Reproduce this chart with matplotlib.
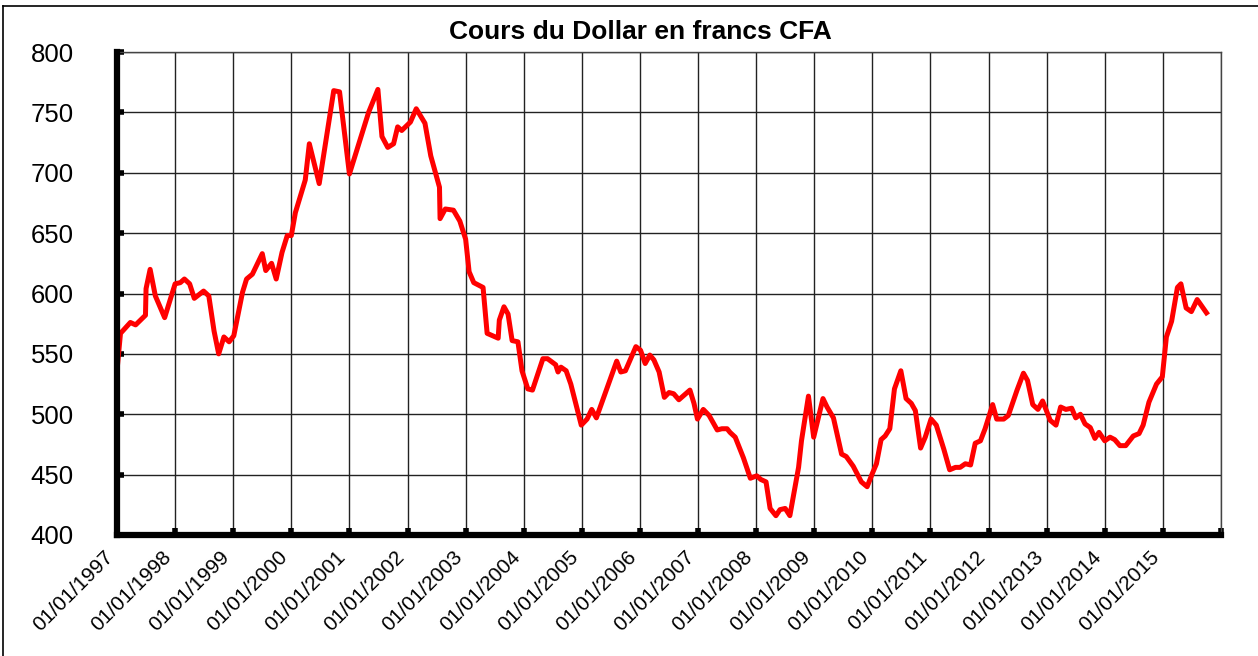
import matplotlib
matplotlib.use("Agg")
import matplotlib.pyplot as plt
from matplotlib.lines import Line2D

plt.rcParams['font.family'] = ['Liberation Sans', 'DejaVu Sans']

# Dates (en années décimales) et cours du dollar
dates = [1997.00, 1997.06, 1997.23, 1997.32, 1997.49, 1997.50, 1997.57, 1997.66, 1997.82,
         1998.00, 1998.09, 1998.16, 1998.25, 1998.33, 1998.49, 1998.58, 1998.67, 1998.75, 1998.84, 1998.93,
         1999.01, 1999.16, 1999.23, 1999.33, 1999.50, 1999.56, 1999.66, 1999.74, 1999.84, 1999.93,
         2000.00, 2000.07, 2000.24, 2000.31, 2000.48, 2000.73, 2000.83,
         2001.00, 2001.33, 2001.49, 2001.56, 2001.66, 2001.76, 2001.83, 2001.90,
         2002.05, 2002.15, 2002.30, 2002.40, 2002.55, 2002.56, 2002.65, 2002.79, 2002.90,
         2003.00, 2003.06, 2003.14, 2003.30, 2003.37, 2003.56, 2003.58, 2003.66, 2003.73, 2003.80, 2003.90, 2003.97,
         2004.07, 2004.15, 2004.33, 2004.41, 2004.55, 2004.59, 2004.64, 2004.73, 2004.81, 2004.99,
         2005.09, 2005.17, 2005.25, 2005.60, 2005.67, 2005.75, 2005.93,
         2006.01, 2006.09, 2006.17, 2006.24, 2006.33, 2006.42, 2006.50, 2006.58, 2006.67, 2006.86, 2006.93, 2006.99,
         2007.09, 2007.19, 2007.33, 2007.41, 2007.50, 2007.55, 2007.64, 2007.78, 2007.90,
         2008.01, 2008.08, 2008.17, 2008.24, 2008.34, 2008.41, 2008.50, 2008.58, 2008.73, 2008.78, 2008.90, 2008.99,
         2009.15, 2009.22, 2009.33, 2009.47, 2009.55, 2009.67, 2009.81, 2009.91,
         2010.00, 2010.07, 2010.15, 2010.22, 2010.30, 2010.38, 2010.49, 2010.58, 2010.67, 2010.74, 2010.83, 2010.91,
         2011.01, 2011.10, 2011.23, 2011.33, 2011.43, 2011.51, 2011.60, 2011.69, 2011.77, 2011.86, 2011.94,
         2012.07, 2012.14, 2012.26, 2012.34, 2012.49, 2012.60, 2012.67, 2012.76, 2012.85, 2012.93,
         2013.06, 2013.16, 2013.24, 2013.33, 2013.43, 2013.50, 2013.58, 2013.66, 2013.75, 2013.83, 2013.90,
         2014.00, 2014.09, 2014.17, 2014.26, 2014.36, 2014.49, 2014.59, 2014.66, 2014.76, 2014.89, 2014.99,
         2015.06, 2015.15, 2015.25, 2015.31, 2015.40, 2015.49, 2015.59, 2015.75]

cours = [536, 567, 576, 574, 582, 604, 620, 598, 580,
         608, 609, 612, 608, 596, 602, 598, 569, 550, 564, 560,
         565, 601, 612, 616, 633, 619, 625, 612, 634, 648,
         648, 667, 694, 724, 691, 768, 767,
         699, 750, 769, 730, 721, 724, 738, 735,
         742, 753, 741, 714, 688, 662, 670, 669, 660,
         645, 618, 609, 605, 567, 563, 578, 589, 583, 561, 560, 536,
         521, 520, 546, 546, 541, 535, 539, 536, 525, 491,
         496, 504, 497, 544, 535, 536, 556,
         553, 542, 549, 545, 535, 514, 518, 517, 512, 520, 509, 496,
         504, 499, 487, 488, 488, 485, 481, 464, 447,
         449, 446, 444, 422, 416, 421, 422, 416, 456, 478, 515, 481,
         513, 506, 497, 467, 465, 457, 444, 440,
         451, 459, 479, 482, 488, 521, 536, 513, 509, 503, 472, 481,
         496, 491, 471, 454, 456, 456, 459, 458, 476, 478, 488,
         508, 496, 496, 499, 520, 534, 528, 508, 504, 511,
         495, 491, 506, 504, 505, 497, 500, 492, 489, 480, 485,
         478, 481, 479, 474, 474, 482, 484, 491, 510, 525, 531,
         564, 577, 605, 608, 588, 585, 595, 584]

annees = list(range(1997, 2017))
etiquettes_x = ["01/01/" + str(a) for a in range(1997, 2016)] + [""]
graduations_y = list(range(400, 801, 50))

W, H = 1258, 656
fig = plt.figure(figsize=(W / 100, H / 100), dpi=100)
ax = fig.add_axes([117 / W, 1 - 535 / H, (1221 - 117) / W, (535 - 52) / H])

ax.plot(dates, cours, color='#ff0000', linewidth=3.6, zorder=3)

ax.set_xlim(1997, 2016)
ax.set_ylim(400, 800)
ax.set_xticks(annees)
ax.set_xticklabels(etiquettes_x, rotation=45, ha='right', fontsize=15)
ax.set_yticks(graduations_y)
ax.set_yticklabels([str(v) for v in graduations_y], fontsize=18.5)

ax.set_axisbelow(True)
ax.grid(True, color='#222222', linewidth=1.0)

for cote in ['left', 'bottom']:
    ax.spines[cote].set_linewidth(4.5)
    ax.spines[cote].set_color('black')
    ax.spines[cote].set_zorder(4)
for cote in ['top', 'right']:
    ax.spines[cote].set_linewidth(1.0)
    ax.spines[cote].set_color('#444444')

ax.tick_params(direction='in', length=5, width=4, color='black')
ax.tick_params(axis='y', pad=31)
ax.tick_params(axis='x', pad=9)

fig.text(640 / W, 1 - 32 / H, "Cours du Dollar en francs CFA", ha='center', va='center',
         fontsize=19, fontweight='bold')

# cadre de la capture (bords gauche et haut)
fig.add_artist(Line2D([3 / W, 3 / W], [0, 1 - 6 / H], transform=fig.transFigure, color='black', linewidth=1.2))
fig.add_artist(Line2D([3 / W, 1], [1 - 6 / H, 1 - 6 / H], transform=fig.transFigure, color='black', linewidth=1.2))

fig.savefig("out.png", dpi=100)
